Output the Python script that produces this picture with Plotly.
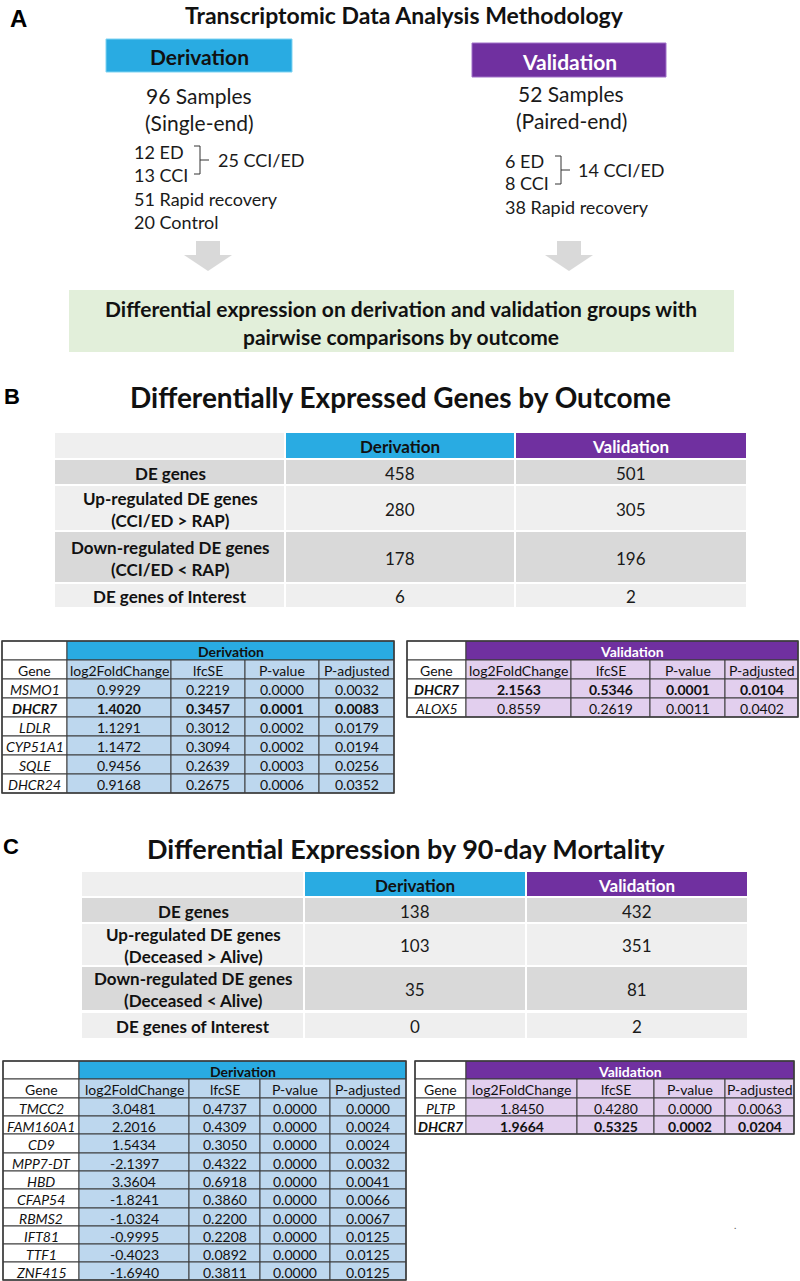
import plotly.graph_objects as go

# ------------------------------------------------------------------ data
panel_a_title = "Transcriptomic Data Analysis Methodology"
cohorts = ["Derivation", "Validation"]
sample_counts = [96, 52]
read_types = ["Single-end", "Paired-end"]
deriv_groups = ["12 ED", "13 CCI", "51 Rapid recovery", "20 Control"]
valid_groups = ["6 ED", "8 CCI", "38 Rapid recovery"]
combined_groups = ["25 CCI/ED", "14 CCI/ED"]
summary_lines = ["Differential expression on derivation and validation groups with",
                 "pairwise comparisons by outcome"]

outcome_title = "Differentially Expressed Genes by Outcome"
outcome_rows = ["DE genes", "Up-regulated DE genes\n(CCI/ED > RAP)",
                "Down-regulated DE genes\n(CCI/ED < RAP)", "DE genes of Interest"]
outcome_deriv = [458, 280, 178, 6]
outcome_valid = [501, 305, 196, 2]

mortality_title = "Differential Expression by 90-day Mortality"
mortality_rows = ["DE genes", "Up-regulated DE genes\n(Deceased > Alive)",
                  "Down-regulated DE genes\n(Deceased < Alive)", "DE genes of Interest"]
mortality_deriv = [138, 103, 35, 0]
mortality_valid = [432, 351, 81, 2]

stat_cols = ["log2FoldChange", "lfcSE", "P-value", "P-adjusted"]
highlight_gene = "DHCR7"

b_der_genes = ["MSMO1", "DHCR7", "LDLR", "CYP51A1", "SQLE", "DHCR24"]
b_der_lfc = [0.9929, 1.4020, 1.1291, 1.1472, 0.9456, 0.9168]
b_der_se = [0.2219, 0.3457, 0.3012, 0.3094, 0.2639, 0.2675]
b_der_p = [0.0000, 0.0001, 0.0002, 0.0002, 0.0003, 0.0006]
b_der_padj = [0.0032, 0.0083, 0.0179, 0.0194, 0.0256, 0.0352]

b_val_genes = ["DHCR7", "ALOX5"]
b_val_lfc = [2.1563, 0.8559]
b_val_se = [0.5346, 0.2619]
b_val_p = [0.0001, 0.0011]
b_val_padj = [0.0104, 0.0402]

c_der_genes = ["TMCC2", "FAM160A1", "CD9", "MPP7-DT", "HBD", "CFAP54", "RBMS2", "IFT81", "TTF1", "ZNF415"]
c_der_lfc = [3.0481, 2.2016, 1.5434, -2.1397, 3.3604, -1.8241, -1.0324, -0.9995, -0.4023, -1.6940]
c_der_se = [0.4737, 0.4309, 0.3050, 0.4322, 0.6918, 0.3860, 0.2200, 0.2208, 0.0892, 0.3811]
c_der_p = [0.0000] * 10
c_der_padj = [0.0000, 0.0024, 0.0024, 0.0032, 0.0041, 0.0066, 0.0067, 0.0125, 0.0125, 0.0125]

c_val_genes = ["PLTP", "DHCR7"]
c_val_lfc = [1.8450, 1.9664]
c_val_se = [0.4280, 0.5325]
c_val_p = [0.0000, 0.0002]
c_val_padj = [0.0063, 0.0204]

# ------------------------------------------------------------------ styles
FONT = "Lato, 'Open Sans', sans-serif"
LETTER_FONT = "'Liberation Sans', Arial, sans-serif"
INK = "#111111"
CYAN = "#29ABE2"
PURPLE = "#7030A0"
LIGHT_BLUE = "#BDD7EE"
LIGHT_PURPLE = "#E2CFEE"
GRAY_D = "#D9D9D9"
GRAY_L = "#EFEFEF"
GREEN = "#E2EFDA"
ARROW = "#D9D9D9"
BORDER = "#3C3C3C"

shapes = []
annots = []


def esc(s):
    return s.replace("&", "&amp;").replace("<", "&lt;").replace(">", "&gt;").replace("\n", "<br>")


def rect(x0, y0, x1, y1, fill, line_color=None, lw=0):
    shapes.append(dict(type="rect", xref="x", yref="y", x0=x0, y0=y0, x1=x1, y1=y1,
                       fillcolor=fill, line=dict(width=lw, color=line_color or fill)))


def line(x0, y0, x1, y1, color, lw=1):
    shapes.append(dict(type="line", xref="x", yref="y", x0=x0, y0=y0, x1=x1, y1=y1,
                       line=dict(width=lw, color=color)))


def text(x, y, s, size, color=INK, bold=False, italic=False, xanchor="center", family=FONT):
    t = s
    if italic:
        t = f"<i>{t}</i>"
    if bold:
        t = f"<b>{t}</b>"
    annots.append(dict(x=x, y=y, xref="x", yref="y", text=t, showarrow=False,
                       xanchor=xanchor, yanchor="middle", borderpad=0,
                       font=dict(family=family, size=size, color=color)))


def mid(a, b):
    return (a + b) / 2


# ------------------------------------------------------------------ panel A
text(18, 18, "A", 24, "#000", bold=True, family=LETTER_FONT)
text(404, 15, panel_a_title, 23, INK, bold=True)

box_x = [(106, 292), (472, 666)]
box_y = [(39, 72), (43, 77)]
box_fill = [CYAN, PURPLE]
box_line = ["#7FD3F2", "#A070C8"]
box_txt = [INK, "white"]
for k in range(2):
    rect(box_x[k][0], box_y[k][0], box_x[k][1], box_y[k][1], box_fill[k], box_line[k], 1)
    text(mid(*box_x[k]), mid(*box_y[k]) + 1, cohorts[k], 21, box_txt[k], bold=True)

samp_x = [199, 571]
samp_y = [(95, 122), (93, 120)]
for k in range(2):
    text(samp_x[k], samp_y[k][0], f"{sample_counts[k]} Samples", 21, "#1a1a1a")
    text(samp_x[k], samp_y[k][1], f"({read_types[k]})", 21, "#1a1a1a")

for g, y in zip(deriv_groups, [152, 175, 199, 222]):
    text(133, y, g, 18, "#1a1a1a", xanchor="left")
for g, y in zip(valid_groups, [161, 183, 207]):
    text(504, y, g, 18, "#1a1a1a", xanchor="left")

# brackets
brackets = [(200, 146, 174, 217), (561, 156, 184, 577)]
for k, (bx, by0, by1, tx) in enumerate(brackets):
    line(bx - 6, by0, bx, by0, "#333", 1)
    line(bx, by0, bx, by1, "#333", 1)
    line(bx - 6, by1, bx, by1, "#333", 1)
    line(bx, mid(by0, by1), bx + 9, mid(by0, by1), "#333", 1)
    text(tx, mid(by0, by1), combined_groups[k], 18, "#1a1a1a", xanchor="left")

# arrows
for cx in [208, 569]:
    path = (f"M {cx-12},241 L {cx+12},241 L {cx+12},255 L {cx+24},255 L {cx},271 "
            f"L {cx-24},255 L {cx-12},255 Z")
    shapes.append(dict(type="path", xref="x", yref="y", path=path, fillcolor=ARROW,
                       line=dict(width=0, color=ARROW)))

rect(69, 290, 734, 352, GREEN)
text(401, 308, summary_lines[0], 21, INK, bold=True)
text(401, 336, summary_lines[1], 21, INK, bold=True)


# ------------------------------------------------------------------ summary tables
def summary_table(x_edges, row_bounds, head_bounds, rows, dvals, vvals):
    hx = x_edges
    rect(hx[0], head_bounds[0], hx[1] - 1, head_bounds[1], GRAY_L)
    rect(hx[1] + 1, head_bounds[0], hx[2] - 1, head_bounds[1], CYAN)
    rect(hx[2] + 1, head_bounds[0], hx[3], head_bounds[1], PURPLE)
    text(mid(hx[1], hx[2]), mid(*head_bounds) + 1, cohorts[0], 17, INK, bold=True)
    text(mid(hx[2], hx[3]), mid(*head_bounds) + 1, cohorts[1], 17, "white", bold=True)
    for i, (lab, dv, vv) in enumerate(zip(rows, dvals, vvals)):
        y0, y1 = row_bounds[i]
        fill = GRAY_D if i % 2 == 0 else GRAY_L
        rect(hx[0], y0, hx[1] - 1, y1, fill)
        rect(hx[1] + 1, y0, hx[2] - 1, y1, fill)
        rect(hx[2] + 1, y0, hx[3], y1, fill)
        yc = mid(y0, y1) + 1
        text(mid(hx[0], hx[1]), yc, esc(lab), 17, INK, bold=True)
        text(mid(hx[1], hx[2]), yc, str(dv), 17, "#1a1a1a")
        text(mid(hx[2], hx[3]), yc, str(vv), 17, "#1a1a1a")


text(12, 396, "B", 22, "#000", bold=True, family=LETTER_FONT)
text(400, 397, outcome_title, 28, INK, bold=True)
summary_table([55, 285, 515, 746],
              [(460, 484), (486, 530), (532, 582), (584, 607)], (433, 458),
              outcome_rows, outcome_deriv, outcome_valid)

text(11, 846, "C", 22, "#000", bold=True, family=LETTER_FONT)
text(406, 848, mortality_title, 27, INK, bold=True)
summary_table([82, 304, 526, 747],
              [(898, 922), (924, 965), (967, 1010), (1013, 1038)], (872, 896),
              mortality_rows, mortality_deriv, mortality_valid)


# ------------------------------------------------------------------ statistic tables
def stat_table(xe, ye, title, head_fill, head_color, cell_fill, genes, lfc, se, p, padj):
    rect(xe[0], ye[0], xe[1], ye[1], "white", BORDER, 1)
    rect(xe[1], ye[0], xe[-1], ye[1], head_fill, BORDER, 1)
    text(mid(xe[1], xe[-1]), mid(ye[0], ye[1]) + 1, title, 14, head_color, bold=True)
    rect(xe[0], ye[1], xe[1], ye[2], "white", BORDER, 1)
    text(mid(xe[0], xe[1]), mid(ye[1], ye[2]) + 1, "Gene", 14, INK)
    for j, c in enumerate(stat_cols):
        rect(xe[j + 1], ye[1], xe[j + 2], ye[2], cell_fill, BORDER, 1)
        text(mid(xe[j + 1], xe[j + 2]), mid(ye[1], ye[2]) + 1, c, 14, INK)
    for i, g in enumerate(genes):
        y0, y1 = ye[i + 2], ye[i + 3]
        b = g == highlight_gene
        rect(xe[0], y0, xe[1], y1, "white", BORDER, 1)
        text(mid(xe[0], xe[1]), mid(y0, y1) + 1, g, 14, INK, bold=b, italic=True)
        vals = [lfc[i], se[i], p[i], padj[i]]
        for j, v in enumerate(vals):
            rect(xe[j + 1], y0, xe[j + 2], y1, cell_fill, BORDER, 1)
            text(mid(xe[j + 1], xe[j + 2]), mid(y0, y1) + 1, f"{v:.4f}", 14, INK, bold=b)
    shapes.append(dict(type="rect", xref="x", yref="y", x0=xe[0], y0=ye[0], x1=xe[-1], y1=ye[-1],
                       fillcolor="rgba(0,0,0,0)", line=dict(width=1.5, color=BORDER)))


stat_table([2, 67, 171, 245, 319, 394], [641, 660, 679, 698, 717, 736, 755, 774, 793],
           cohorts[0], CYAN, INK, LIGHT_BLUE, b_der_genes, b_der_lfc, b_der_se, b_der_p, b_der_padj)
stat_table([407, 466, 571, 650, 725, 798], [641, 660, 679, 698, 717],
           cohorts[1], PURPLE, "white", LIGHT_PURPLE, b_val_genes, b_val_lfc, b_val_se, b_val_p, b_val_padj)
stat_table([3, 79, 189, 260, 330, 406],
           [1061, 1079, 1098, 1116, 1134, 1153, 1171, 1189, 1208, 1226, 1244, 1262, 1280],
           cohorts[0], CYAN, INK, LIGHT_BLUE, c_der_genes, c_der_lfc, c_der_se, c_der_p, c_der_padj)
stat_table([415, 466, 577, 654, 725, 794], [1061, 1079, 1098, 1116, 1134],
           cohorts[1], PURPLE, "white", LIGHT_PURPLE, c_val_genes, c_val_lfc, c_val_se, c_val_p, c_val_padj)

text(735, 1225, ".", 10, "#555")

# ------------------------------------------------------------------ figure
fig = go.Figure(go.Scatter(x=[], y=[], mode="markers", showlegend=False, hoverinfo="skip"))
fig.update_layout(
    width=800, height=1281,
    margin=dict(l=0, r=0, t=0, b=0, pad=0),
    paper_bgcolor="white", plot_bgcolor="white",
    xaxis=dict(range=[0, 800], visible=False, fixedrange=True),
    yaxis=dict(range=[1281, 0], visible=False, fixedrange=True),
    shapes=shapes, annotations=annots, showlegend=False,
)
fig.write_html("out.html", config={"displayModeBar": False},
               post_script="document.body.style.margin='0';document.body.style.overflow='hidden';")
